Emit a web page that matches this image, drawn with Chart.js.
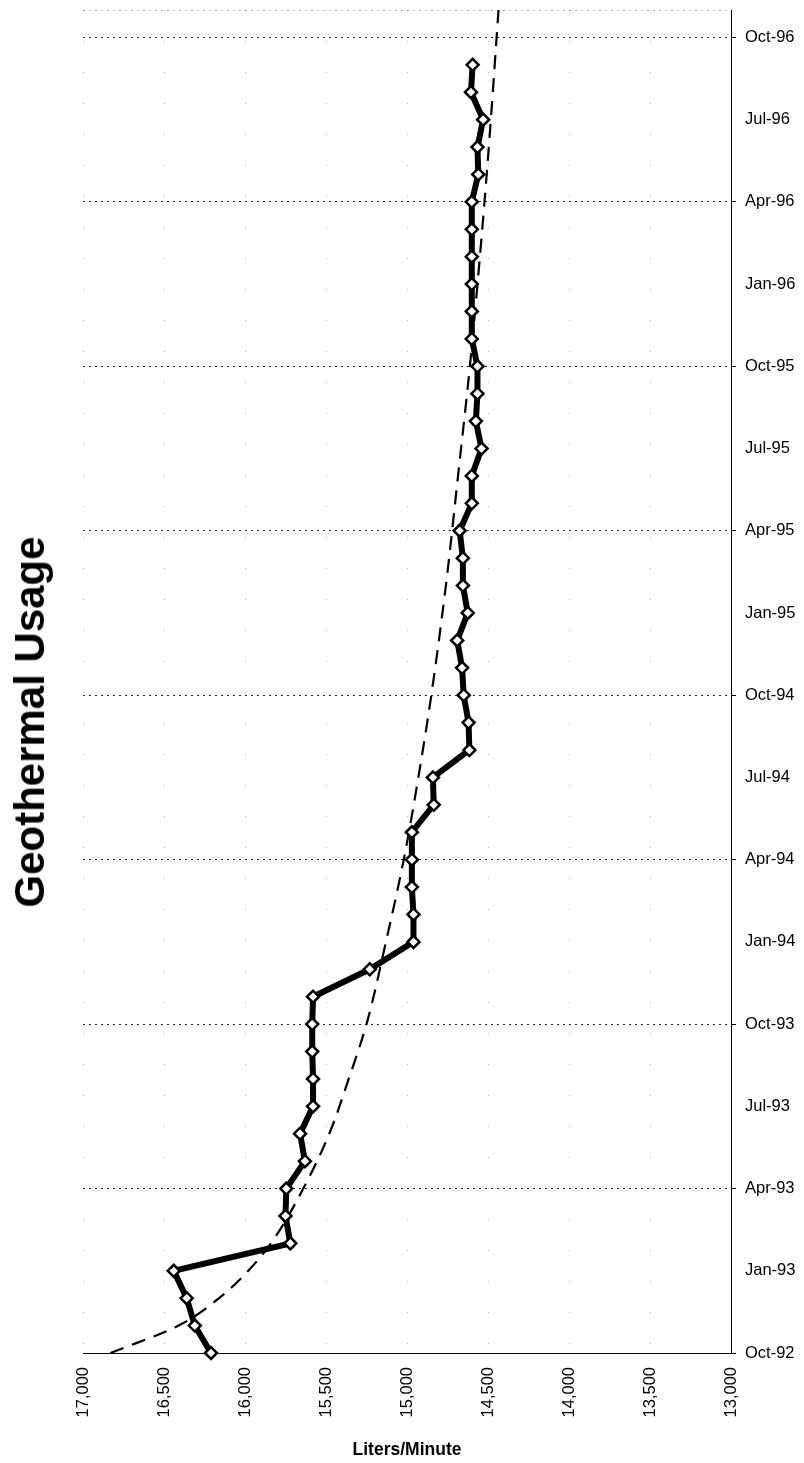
<!DOCTYPE html>
<html>
<head>
<meta charset="utf-8">
<script src="https://cdn.jsdelivr.net/npm/chart.js@4.4.1/dist/chart.umd.min.js"></script>
<style>
html,body{margin:0;padding:0;background:#fff;overflow:hidden;}
#wrap{position:relative;width:804px;height:1463px;}
#title{position:absolute;left:30px;top:722px;transform:translate(-50%,-50%) rotate(-90deg);
  font-family:"Liberation Sans",Arial,sans-serif;font-weight:bold;font-size:42px;line-height:42px;white-space:nowrap;color:#000;}
</style>
</head>
<body>
<div id="wrap">
  <canvas id="c" width="804" height="1463"></canvas>
  <div id="title">Geothermal Usage</div>
</div>
<script>
// Months (category axis, bottom = Oct-92)
const months = [
  'Oct-92','Nov-92','Dec-92','Jan-93','Feb-93','Mar-93','Apr-93','May-93','Jun-93','Jul-93','Aug-93','Sep-93',
  'Oct-93','Nov-93','Dec-93','Jan-94','Feb-94','Mar-94','Apr-94','May-94','Jun-94','Jul-94','Aug-94','Sep-94',
  'Oct-94','Nov-94','Dec-94','Jan-95','Feb-95','Mar-95','Apr-95','May-95','Jun-95','Jul-95','Aug-95','Sep-95',
  'Oct-95','Nov-95','Dec-95','Jan-96','Feb-96','Mar-96','Apr-96','May-96','Jun-96','Jul-96','Aug-96','Sep-96'
];
// Geothermal usage, liters/minute
const usage = [
  16210, 16310, 16360, 16440, 15720, 15750, 15745, 15630, 15660, 15580, 15580, 15585,
  15585, 15580, 15230, 14960, 14960, 14970, 14970, 14970, 14835, 14840, 14615, 14620,
  14650, 14660, 14690, 14625, 14655, 14655, 14675, 14600, 14600, 14540, 14575, 14565,
  14565, 14600, 14600, 14600, 14600, 14600, 14600, 14560, 14565, 14530, 14605, 14595
];
// Trend line (dashed), read at these month positions
const trendMonths = [0, 1, 2, 3, 4, 6, 8, 10, 12, 15, 18, 21, 24, 28, 32, 36, 40, 44, 49];
const trendValues = [16830, 16410, 16160, 15980, 15840, 15640, 15480, 15360, 15250, 15130, 15020, 14930, 14850, 14760, 14685, 14612, 14550, 14495, 14435];
// Axis tick labels
const dateTickLabels = ['Oct-92','Jan-93','Apr-93','Jul-93','Oct-93','Jan-94','Apr-94','Jul-94','Oct-94',
  'Jan-95','Apr-95','Jul-95','Oct-95','Jan-96','Apr-96','Jul-96','Oct-96'];
const valueTicks = [13000, 13500, 14000, 14500, 15000, 15500, 16000, 16500, 17000];

const FONT = '"Liberation Sans", Arial, sans-serif';
const yMax = months.length + 1;

new Chart(document.getElementById('c'), {
  type: 'line',
  data: {
    datasets: [
      {
        label: 'Usage',
        data: usage.map((v, i) => ({x: v, y: i})),
        borderColor: '#000',
        borderWidth: 6,
        pointStyle: 'rectRot',
        pointRadius: 6,
        pointBorderWidth: 2.5,
        pointBackgroundColor: '#fff',
        pointBorderColor: '#000',
        tension: 0,
        clip: false
      },
      {
        label: 'Trend',
        data: trendMonths.map((m, i) => ({x: trendValues[i], y: m})),
        borderColor: '#000',
        borderWidth: 2.2,
        borderDash: [14, 9],
        pointRadius: 0,
        cubicInterpolationMode: 'monotone'
      }
    ]
  },
  options: {
    responsive: false,
    animation: false,
    indexAxis: 'y',
    layout: {padding: {left: 83, top: 10, right: 0, bottom: 0}},
    plugins: {legend: {display: false}, tooltip: {enabled: false}, title: {display: false}},
    scales: {
      x: {
        type: 'linear',
        position: 'bottom',
        reverse: true,
        min: 13000,
        max: 17000,
        afterBuildTicks: (s) => { s.ticks = valueTicks.map(v => ({value: v})); },
        afterFit: (s) => { s.height = 110; s.paddingLeft = 0; s.paddingRight = 0; },
        ticks: {
          autoSkip: false,
          minRotation: 90,
          maxRotation: 90,
          padding: 14,
          color: '#000',
          font: {family: FONT, size: 16.5},
          callback: (v) => Number(v).toLocaleString('en-US')
        },
        grid: {
          drawTicks: false,
          color: 'rgba(0,0,0,0.28)',
          lineWidth: 1
        },
        border: {display: true, color: '#000', width: 1, dash: [1, 30]},
        title: {
          display: true,
          text: 'Liters/Minute',
          color: '#000',
          font: {family: FONT, size: 17.5, weight: 'bold'},
          padding: {top: 0, bottom: 2}
        }
      },
      y: {
        type: 'linear',
        position: 'right',
        min: 0,
        max: yMax,
        afterBuildTicks: (s) => {
          const t = dateTickLabels.map((_, i) => ({value: i * 3}));
          t.push({value: yMax});
          s.ticks = t;
        },
        afterFit: (s) => { s.width = 73; s.paddingTop = 0; s.paddingBottom = 0; },
        ticks: {
          autoSkip: false,
          padding: 9,
          color: '#000',
          font: {family: FONT, size: 16.5},
          callback: (v) => (v % 3 === 0 && v / 3 < dateTickLabels.length) ? dateTickLabels[v / 3] : ''
        },
        grid: {
          tickLength: 5,
          lineWidth: 1,
          color: (ctx) => {
            const v = ctx.tick ? ctx.tick.value : 0;
            if (v === yMax) return 'rgba(0,0,0,0.3)';
            return v % 6 === 0 ? '#222' : 'rgba(0,0,0,0)';
          },
          tickColor: (ctx) => {
            const v = ctx.tick ? ctx.tick.value : 0;
            return (v % 6 === 0) ? '#000' : 'rgba(0,0,0,0)';
          }
        },
        border: {display: true, color: '#000', width: 1, dash: [2, 4]}
      }
    }
  }
});
</script>
</body>
</html>
